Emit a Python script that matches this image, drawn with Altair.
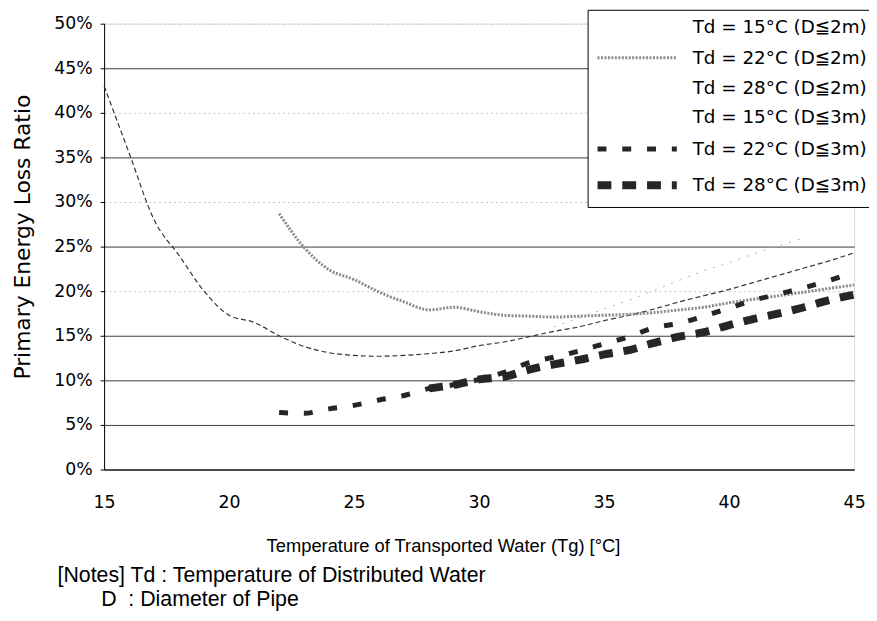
import altair as alt
import pandas as pd

# ---------------- data ----------------
series_labels = [
    "Td = 15°C (D≦2m)",
    "Td = 22°C (D≦2m)",
    "Td = 28°C (D≦2m)",
    "Td = 15°C (D≦3m)",
    "Td = 22°C (D≦3m)",
    "Td = 28°C (D≦3m)",
]

tg_15_2m = list(range(15, 46))
loss_15_2m = [43.0, 35.5, 28.0, 24.0, 20.0, 17.3, 16.5, 15.0, 13.8, 13.1,
              12.8, 12.7, 12.8, 13.0, 13.3, 13.9, 14.3, 14.9, 15.5, 16.0,
              16.7, 17.3, 18.0, 18.8, 19.5, 20.2, 21.0, 21.8, 22.6, 23.4, 24.3]

tg_22_2m = list(range(22, 46))
loss_22_2m = [28.7, 24.9, 22.4, 21.3, 19.9, 18.8, 17.9, 18.2, 17.7, 17.3,
              17.2, 17.1, 17.2, 17.3, 17.4, 17.6, 17.9, 18.2, 18.7, 19.1,
              19.5, 19.9, 20.3, 20.7]

tg_28_2m = list(range(33, 44))
loss_28_2m = [16.0, 17.0, 18.0, 19.0, 20.1, 21.2, 22.3, 23.2, 24.2, 25.1, 26.0]

tg_15_3m = []
loss_15_3m = []

tg_22_3m = list(range(22, 46))
loss_22_3m = [6.4, 6.3, 6.8, 7.2, 7.8, 8.3, 9.1, 9.5, 10.1, 10.9,
              12.0, 12.6, 13.3, 14.1, 14.9, 15.9, 16.4, 17.2, 18.1, 19.0,
              19.7, 20.4, 21.2, 22.1]

tg_28_3m = list(range(28, 46))
loss_28_3m = [9.1, 9.5, 10.1, 10.4, 11.2, 11.8, 12.3, 12.9, 13.4, 14.2,
              14.9, 15.4, 16.2, 16.9, 17.5, 18.2, 19.0, 19.6]

x_ticks = [15, 20, 25, 30, 35, 40, 45]
y_ticks = [0, 5, 10, 15, 20, 25, 30, 35, 40, 45, 50]

x_title = "Temperature of Transported Water (Tg) [°C]"
y_title = "Primary Energy Loss Ratio"
note_line_1 = "[Notes] Td : Temperature of Distributed Water"
note_line_2 = "D\u00a0\u00a0: Diameter of Pipe"

# ---------------- table ----------------
rows = []
for label, xs, ys in zip(series_labels,
                         [tg_15_2m, tg_22_2m, tg_28_2m, tg_15_3m, tg_22_3m, tg_28_3m],
                         [loss_15_2m, loss_22_2m, loss_28_2m, loss_15_3m, loss_22_3m, loss_28_3m]):
    for xv, yv in zip(xs, ys):
        rows.append({"series": label, "tg": xv, "loss": yv})
df = pd.DataFrame(rows)

# ---------------- styles ----------------
line_colors = ["#333333", "#8a8a8a", "#b0b0b0", "#333333", "#262626", "#262626"]
line_dashes = [[5, 3], [2, 1.5], [2, 7], [4, 3], [9, 16], [14, 11]]
line_widths = [1.2, 3, 1, 1, 5, 8]
legend_opacity = [0, 1, 0, 0, 1, 1]

FONT_WIDE = "DejaVu Sans"
FONT_NARROW = "Liberation Sans"

leg = alt.Legend(
    title=None, orient="none", legendX=488, legendY=-14,
    symbolType="M-1,0H7", symbolSize=400, rowPadding=10,
    labelFont=FONT_WIDE, labelFontSize=18.5, labelColor="black",
    labelOffset=72, labelLimit=400, padding=6,
    strokeColor="black", fillColor="white",
)

x_enc = alt.X("tg:Q", scale=alt.Scale(domain=[15, 45], nice=False, zero=False),
              axis=alt.Axis(values=x_ticks, grid=False, ticks=False,
                            domainColor="black", domainWidth=1,
                            labelFont=FONT_WIDE, labelFontSize=17.5, labelColor="black",
                            labelPadding=24, labelFlush=False,
                            title=x_title, titleFont=FONT_NARROW, titleFontSize=18.5,
                            titleFontWeight="normal", titleColor="black",
                            titleX=342, titleY=77, titleAlign="center",
                            titleBaseline="middle"))
y_enc = alt.Y("loss:Q", scale=alt.Scale(domain=[0, 50], nice=False),
              axis=alt.Axis(values=y_ticks, labelExpr="datum.value + '%'",
                            grid=True,
                            gridColor={"condition": {"test": "datum.value >= 20 && datum.value % 10 == 0",
                                                     "value": "#c4c4c4"},
                                       "value": "#3c3c3c"},
                            gridDash={"condition": {"test": "datum.value >= 20 && datum.value % 10 == 0",
                                                    "value": [2, 3]},
                                      "value": []},
                            domainColor="black", tickColor="black", tickSize=4,
                            labelFont=FONT_WIDE, labelFontSize=17.5, labelColor="black",
                            labelPadding=8,
                            title=y_title, titleFont=FONT_WIDE, titleFontSize=22,
                            titleFontWeight="normal", titleColor="black",
                            titlePadding=19, titleY=215))

base = alt.Chart(df)

main = base.mark_line(interpolate="monotone", strokeCap="butt").encode(
    x=x_enc, y=y_enc,
    color=alt.Color("series:N", sort=series_labels,
                    scale=alt.Scale(type="ordinal", domain=series_labels, range=line_colors),
                    legend=leg),
    strokeDash=alt.StrokeDash("series:N", sort=series_labels,
                              scale=alt.Scale(type="ordinal", domain=series_labels, range=line_dashes),
                              legend=leg),
    strokeWidth=alt.StrokeWidth("series:N", sort=series_labels,
                                scale=alt.Scale(type="ordinal", domain=series_labels, range=line_widths),
                                legend=leg),
    opacity=alt.Opacity("series:N", sort=series_labels,
                        scale=alt.Scale(type="ordinal", domain=series_labels, range=legend_opacity),
                        legend=leg),
)

faint_a = base.transform_filter(alt.datum.series == series_labels[0]).mark_line(
    interpolate="monotone", color=line_colors[0], strokeDash=line_dashes[0],
    strokeWidth=line_widths[0]).encode(x="tg:Q", y="loss:Q")
faint_b = base.transform_filter(alt.datum.series == series_labels[2]).mark_line(
    interpolate="monotone", color=line_colors[2], strokeDash=line_dashes[2],
    strokeWidth=line_widths[2]).encode(x="tg:Q", y="loss:Q")

note1 = alt.Chart(pd.DataFrame({"t": [note_line_1]})).mark_text(
    align="left", baseline="middle", font=FONT_NARROW, fontSize=21.5, color="black"
).encode(x=alt.value(-47), y=alt.value(558), text="t:N")
note2 = alt.Chart(pd.DataFrame({"t": [note_line_2]})).mark_text(
    align="left", baseline="middle", font=FONT_NARROW, fontSize=21.5, color="black"
).encode(x=alt.value(-3), y=alt.value(582), text="t:N")

chart = alt.layer(faint_b, faint_a, main, note1, note2).properties(
    width=757, height=450,
    autosize=alt.AutoSizeParams(type="none"),
    padding={"left": 97, "top": 13, "right": 15, "bottom": 142},
).configure_view(strokeWidth=0).configure(background="white")

chart.save("out.html", embed_options={"renderer": "svg", "actions": False})
